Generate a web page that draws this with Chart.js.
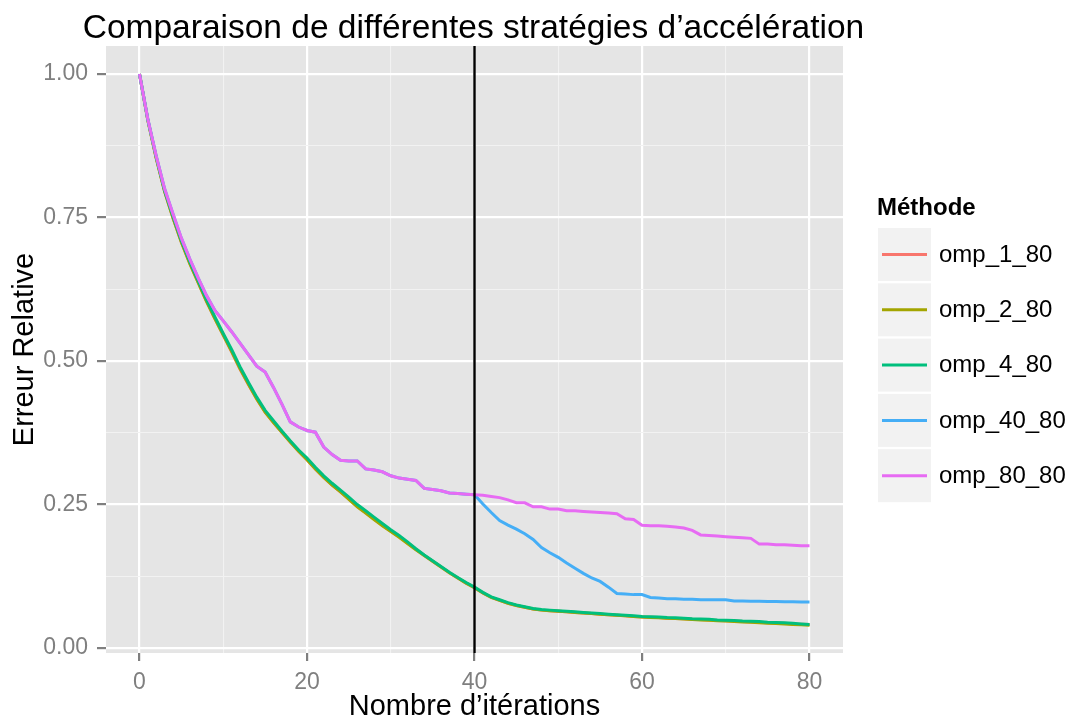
<!DOCTYPE html>
<html lang="fr">
<head>
<meta charset="UTF-8">
<title>Comparaison de différentes stratégies d’accélération</title>
<script src="https://cdn.jsdelivr.net/npm/chart.js"></script>
<style>
    body { margin: 0; background: #ffffff; }
    #wrap { width: 1068px; height: 718px; }
</style>
</head>
<body>
<div id="wrap"><canvas id="chart" width="1068" height="718"></canvas></div>
<script>
// --- data ---
const iterations = [
     0,  1,  2,  3,  4,  5,  6,  7,  8,  9, 10, 11, 12, 13, 14, 15, 16, 17, 18, 19, 20,
    21, 22, 23, 24, 25, 26, 27, 28, 29, 30, 31, 32, 33, 34, 35, 36, 37, 38, 39, 40,
    41, 42, 43, 44, 45, 46, 47, 48, 49, 50, 51, 52, 53, 54, 55, 56, 57, 58, 59, 60,
    61, 62, 63, 64, 65, 66, 67, 68, 69, 70, 71, 72, 73, 74, 75, 76, 77, 78, 79, 80
];

const omp_1_80 = [
    1.000, 0.919, 0.853, 0.795, 0.749, 0.707, 0.670, 0.637, 0.604, 0.574, 0.545,
    0.516, 0.486, 0.459, 0.434, 0.411, 0.393, 0.376, 0.359, 0.343, 0.328,
    0.312, 0.297, 0.284, 0.272, 0.260, 0.247, 0.236, 0.225, 0.214, 0.204,
    0.194, 0.183, 0.172, 0.161, 0.151, 0.141, 0.131, 0.122, 0.113, 0.105,
    0.096, 0.088, 0.083, 0.078, 0.074, 0.071, 0.068, 0.066, 0.065, 0.064,
    0.063, 0.062, 0.061, 0.060, 0.059, 0.058, 0.057, 0.056, 0.055, 0.054,
    0.0535, 0.053, 0.052, 0.0515, 0.051, 0.050, 0.0495, 0.049, 0.048, 0.0475,
    0.047, 0.046, 0.0455, 0.045, 0.044, 0.0435, 0.043, 0.042, 0.0415, 0.041
];

const omp_2_80 = [
    1.000, 0.919, 0.853, 0.795, 0.749, 0.707, 0.670, 0.637, 0.604, 0.574, 0.545,
    0.517, 0.487, 0.460, 0.434, 0.411, 0.393, 0.376, 0.359, 0.343, 0.328,
    0.312, 0.297, 0.284, 0.272, 0.259, 0.246, 0.235, 0.224, 0.213, 0.203,
    0.193, 0.182, 0.171, 0.161, 0.151, 0.141, 0.131, 0.122, 0.113, 0.105,
    0.096, 0.088, 0.083, 0.078, 0.074, 0.071, 0.068, 0.066, 0.065, 0.064,
    0.063, 0.062, 0.061, 0.060, 0.059, 0.058, 0.057, 0.056, 0.055, 0.054,
    0.0533, 0.0527, 0.052, 0.0513, 0.0505, 0.0498, 0.049, 0.0483, 0.0476, 0.047,
    0.0463, 0.0455, 0.0448, 0.044, 0.0433, 0.0425, 0.0418, 0.041, 0.0403, 0.0396
];

const omp_4_80 = [
    1.000, 0.920, 0.855, 0.797, 0.752, 0.710, 0.673, 0.640, 0.607, 0.577, 0.548,
    0.520, 0.490, 0.463, 0.437, 0.414, 0.396, 0.378, 0.361, 0.345, 0.331,
    0.315, 0.300, 0.287, 0.275, 0.263, 0.250, 0.239, 0.228, 0.217, 0.206,
    0.196, 0.185, 0.173, 0.162, 0.152, 0.142, 0.132, 0.123, 0.114, 0.106,
    0.097, 0.089, 0.084, 0.079, 0.075, 0.072, 0.069, 0.067, 0.066, 0.065,
    0.064, 0.063, 0.062, 0.061, 0.060, 0.059, 0.058, 0.057, 0.056, 0.055,
    0.0545, 0.054, 0.053, 0.0525, 0.052, 0.051, 0.0505, 0.050, 0.049, 0.0485,
    0.048, 0.047, 0.0465, 0.046, 0.045, 0.0445, 0.044, 0.043, 0.042, 0.041
];

const omp_40_80 = [
    1.000, 0.921, 0.857, 0.800, 0.756, 0.714, 0.678, 0.645, 0.614, 0.588, 0.570,
    0.551, 0.531, 0.511, 0.491, 0.481, 0.454, 0.425, 0.394, 0.385, 0.379,
    0.376, 0.350, 0.337, 0.327, 0.326, 0.326, 0.312, 0.310, 0.307, 0.300,
    0.296, 0.294, 0.292, 0.278, 0.276, 0.274, 0.270, 0.269, 0.268, 0.267,
    0.251, 0.236, 0.222, 0.214, 0.207, 0.199, 0.189, 0.175, 0.166, 0.158,
    0.148, 0.139, 0.130, 0.122, 0.116, 0.106, 0.095, 0.094, 0.093, 0.093,
    0.088, 0.087, 0.086, 0.086, 0.085, 0.085, 0.084, 0.084, 0.084, 0.084,
    0.082, 0.082, 0.0815, 0.0815, 0.081, 0.081, 0.0805, 0.0805, 0.080, 0.080
];

const omp_80_80 = [
    1.000, 0.921, 0.857, 0.800, 0.756, 0.714, 0.678, 0.645, 0.614, 0.588, 0.570,
    0.551, 0.531, 0.511, 0.491, 0.481, 0.454, 0.425, 0.394, 0.385, 0.379,
    0.376, 0.350, 0.337, 0.327, 0.326, 0.326, 0.312, 0.310, 0.307, 0.300,
    0.296, 0.294, 0.292, 0.278, 0.276, 0.274, 0.270, 0.269, 0.268, 0.267,
    0.266, 0.264, 0.262, 0.258, 0.253, 0.253, 0.246, 0.246, 0.242, 0.242,
    0.239, 0.239, 0.238, 0.237, 0.236, 0.235, 0.234, 0.225, 0.224, 0.214,
    0.213, 0.213, 0.212, 0.211, 0.209, 0.205, 0.197, 0.196, 0.195, 0.194,
    0.193, 0.192, 0.191, 0.181, 0.181, 0.180, 0.180, 0.179, 0.178, 0.178
];

const seriesNames = ['omp_1_80', 'omp_2_80', 'omp_4_80', 'omp_40_80', 'omp_80_80'];
const seriesValues = [omp_1_80, omp_2_80, omp_4_80, omp_40_80, omp_80_80];
const seriesColors = ['#F8766D', '#A3A500', '#00BF7D', '#45AEF6', '#E76BF3'];

const xMajorTicks = [0, 20, 40, 60, 80];
const xMinorTicks = [10, 30, 50, 70];
const xTickLabels = ['0', '20', '40', '60', '80'];
const yMajorTicks = [0, 0.25, 0.5, 0.75, 1];
const yMinorTicks = [0.125, 0.375, 0.625, 0.875];
const yTickLabels = ['0.00', '0.25', '0.50', '0.75', '1.00'];

const switchIteration = 40;   // vertical black line

const titleText = 'Comparaison de différentes stratégies d’accélération';
const xTitle = 'Nombre d’itérations';
const yTitle = 'Erreur Relative';
const legendTitle = 'Méthode';

// --- look ---
const FONT = '"Liberation Sans", Arial, Helvetica, sans-serif';
const PANEL = '#e5e5e5';
const GREY = '#7f7f7f';

const isMajor = (list, v) => list.some(t => Math.abs(t - v) < 1e-9);

const datasets = seriesNames.map((name, i) => ({
    label: name,
    data: iterations.map((it, j) => ({ x: it, y: seriesValues[i][j] })),
    borderColor: seriesColors[i],
    backgroundColor: seriesColors[i],
    borderWidth: 3,
    pointRadius: 0,
    tension: 0,
    fill: false,
    order: seriesNames.length - i   // last series drawn on top, like ggplot
}));

const ggPlugin = {
    id: 'gg',
    beforeDraw(chart) {
        const { ctx, chartArea: a } = chart;
        ctx.save();
        ctx.fillStyle = PANEL;
        ctx.fillRect(a.left, a.top, a.right - a.left, a.bottom - a.top);
        ctx.restore();
    },
    afterDatasetsDraw(chart) {
        const { ctx, chartArea: a } = chart;
        const x = chart.scales.x.getPixelForValue(switchIteration);
        ctx.save();
        ctx.strokeStyle = '#000000';
        ctx.lineWidth = 2.4;
        ctx.beginPath();
        ctx.moveTo(x, a.top);
        ctx.lineTo(x, a.bottom);
        ctx.stroke();
        ctx.restore();
    },
    afterDraw(chart) {
        const { ctx, chartArea: a } = chart;
        ctx.save();
        // title
        ctx.fillStyle = '#000000';
        ctx.font = '33.5px ' + FONT;
        ctx.textAlign = 'center';
        ctx.textBaseline = 'alphabetic';
        ctx.fillText(titleText, (a.left + a.right) / 2 - 1, 38);

        // legend
        ctx.textAlign = 'left';
        ctx.font = 'bold 24px ' + FONT;
        ctx.fillText(legendTitle, 877, 215);
        ctx.font = '24px ' + FONT;
        ctx.textBaseline = 'middle';
        seriesNames.forEach((name, i) => {
            const top = 228 + i * 55.3;
            ctx.fillStyle = '#f2f2f2';
            ctx.fillRect(878, top, 53, 53);
            ctx.strokeStyle = seriesColors[i];
            ctx.lineWidth = 3;
            ctx.beginPath();
            ctx.moveTo(882, top + 26.5);
            ctx.lineTo(927, top + 26.5);
            ctx.stroke();
            ctx.fillStyle = '#000000';
            ctx.fillText(name, 939, top + 27);
        });
        ctx.restore();
    }
};

new Chart(document.getElementById('chart').getContext('2d'), {
    type: 'line',
    data: { datasets },
    options: {
        responsive: false,
        animation: false,
        devicePixelRatio: 1,
        layout: { padding: { top: 46, right: 225, left: 0, bottom: 0 } },
        plugins: {
            legend: { display: false },
            title: { display: false },
            tooltip: { enabled: false }
        },
        scales: {
            x: {
                type: 'linear',
                min: -4,
                max: 84,
                afterBuildTicks: s => { s.ticks = [...xMajorTicks, ...xMinorTicks].sort((a, b) => a - b).map(v => ({ value: v })); },
                afterFit: s => { s.height = 65; },
                border: { display: false },
                grid: {
                    color: c => isMajor(xMajorTicks, c.tick.value) ? '#ffffff' : '#f2f2f2',
                    lineWidth: c => isMajor(xMajorTicks, c.tick.value) ? 2.2 : 1.1,
                    tickColor: c => isMajor(xMajorTicks, c.tick.value) ? GREY : 'rgba(0,0,0,0)',
                    tickWidth: 2.2,
                    tickLength: 8,
                    drawTicks: true
                },
                ticks: {
                    autoSkip: false,
                    maxRotation: 0,
                    padding: 8,
                    color: GREY,
                    font: { family: FONT, size: 23 },
                    callback: v => { const k = xMajorTicks.indexOf(v); return k >= 0 ? xTickLabels[k] : ''; }
                },
                title: {
                    display: true,
                    text: xTitle,
                    color: '#000000',
                    font: { family: FONT, size: 29, lineHeight: 1 },
                    padding: { top: 0, bottom: -3 }
                }
            },
            y: {
                type: 'linear',
                min: -0.0087,
                max: 1.0488,
                afterBuildTicks: s => { s.ticks = [...yMajorTicks, ...yMinorTicks].sort((a, b) => a - b).map(v => ({ value: v })); },
                afterFit: s => { s.width = 106; },
                border: { display: false },
                grid: {
                    color: c => isMajor(yMajorTicks, c.tick.value) ? '#ffffff' : '#f2f2f2',
                    lineWidth: c => isMajor(yMajorTicks, c.tick.value) ? 2.2 : 1.1,
                    tickColor: c => isMajor(yMajorTicks, c.tick.value) ? GREY : 'rgba(0,0,0,0)',
                    tickWidth: 2.2,
                    tickLength: 9,
                    drawTicks: true
                },
                ticks: {
                    autoSkip: false,
                    padding: 9,
                    color: GREY,
                    font: { family: FONT, size: 23 },
                    callback: v => { const k = yMajorTicks.findIndex(t => Math.abs(t - v) < 1e-9); return k >= 0 ? yTickLabels[k] : ''; }
                },
                title: {
                    display: true,
                    text: yTitle,
                    color: '#000000',
                    font: { family: FONT, size: 29, lineHeight: 1 },
                    padding: { top: 10, bottom: 0 }
                }
            }
        }
    },
    plugins: [ggPlugin]
});
</script>
</body>
</html>
